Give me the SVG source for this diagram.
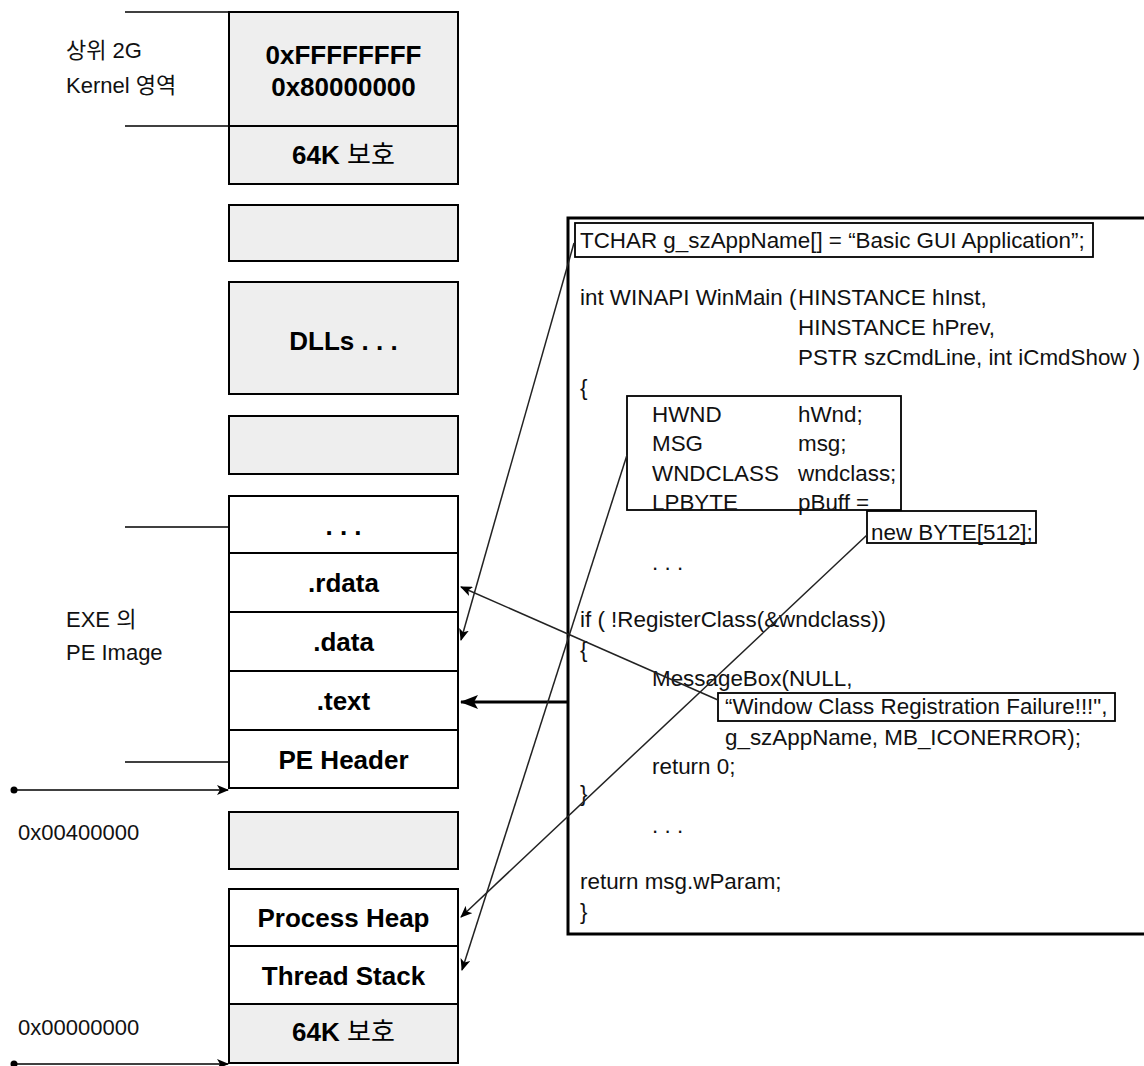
<svg xmlns="http://www.w3.org/2000/svg" width="1144" height="1066" viewBox="0 0 1144 1066">
<defs>
<style>
.mem{stroke:#000;stroke-width:2;}
.g{fill:#eeeeee;}
.w{fill:#ffffff;}
.bl{font-family:"Liberation Sans","Noto Sans CJK KR",sans-serif;font-weight:bold;font-size:26px;fill:#000;text-anchor:middle;}
.kr{font-weight:normal;}
.lab{font-family:"Liberation Sans","Noto Sans CJK KR",sans-serif;font-size:22px;fill:#111;}
.code{font-family:"Liberation Sans",sans-serif;font-size:22.4px;fill:#111;}
.ln{stroke:#000;stroke-width:1.5;fill:none;}
.thin{stroke:#222;stroke-width:1.5;fill:none;}
.box{fill:none;stroke:#000;stroke-width:1.8;}
</style>
<marker id="ah" markerWidth="12" markerHeight="10" refX="11" refY="5" orient="auto" markerUnits="userSpaceOnUse">
<path d="M0,0 L12,5 L0,10 L3,5 z" fill="#000"/>
</marker>
<marker id="ahb" markerWidth="18" markerHeight="14" refX="17" refY="7" orient="auto" markerUnits="userSpaceOnUse">
<path d="M0,0 L18,7 L0,14 L4,7 z" fill="#000"/>
</marker>
</defs>

<g id="labels">
<text class="lab" x="66" y="58">상위 2G</text>
<text class="lab" x="66" y="93">Kernel 영역</text>
<text class="lab" x="66" y="627">EXE 의</text>
<text class="lab" x="66" y="660">PE Image</text>
<text class="lab" x="18" y="840">0x00400000</text>
<text class="lab" x="18" y="1035">0x00000000</text>
</g>

<g id="kernel">
<rect class="mem g" x="229" y="12" width="229" height="114"/>
<text class="bl" x="343.5" y="64">0xFFFFFFFF</text>
<text class="bl" x="343.5" y="96">0x80000000</text>
</g>
<g id="guard-top">
<rect class="mem g" x="229" y="126" width="229" height="58"/>
<text class="bl" x="343.5" y="164">64K <tspan class="kr">보호</tspan></text>
</g>
<g id="free1"><rect class="mem g" x="229" y="205" width="229" height="56"/></g>
<g id="dlls">
<rect class="mem g" x="229" y="282" width="229" height="112"/>
<text class="bl" x="343.5" y="350">DLLs . . .</text>
</g>
<g id="free2"><rect class="mem g" x="229" y="416" width="229" height="58"/></g>
<g id="sec-etc">
<rect class="mem w" x="229" y="496" width="229" height="57"/>
<text class="bl" x="343.5" y="535">. . .</text>
</g>
<g id="rdata">
<rect class="mem w" x="229" y="553" width="229" height="59"/>
<text class="bl" x="343.5" y="592">.rdata</text>
</g>
<g id="data">
<rect class="mem w" x="229" y="612" width="229" height="59"/>
<text class="bl" x="343.5" y="651">.data</text>
</g>
<g id="textsec">
<rect class="mem w" x="229" y="671" width="229" height="59"/>
<text class="bl" x="343.5" y="710">.text</text>
</g>
<g id="peheader">
<rect class="mem w" x="229" y="730" width="229" height="58"/>
<text class="bl" x="343.5" y="769">PE Header</text>
</g>
<g id="free3"><rect class="mem g" x="229" y="812" width="229" height="57"/></g>
<g id="heap">
<rect class="mem w" x="229" y="889" width="229" height="57"/>
<text class="bl" x="343.5" y="927">Process Heap</text>
</g>
<g id="stack">
<rect class="mem w" x="229" y="946" width="229" height="58"/>
<text class="bl" x="343.5" y="985">Thread Stack</text>
</g>
<g id="guard-bottom">
<rect class="mem g" x="229" y="1004" width="229" height="59"/>
<text class="bl" x="343.5" y="1041">64K <tspan class="kr">보호</tspan></text>
</g>

<g id="code">
<rect x="568" y="218" width="590" height="716" fill="#fff" stroke="#000" stroke-width="3"/>
<rect class="box" x="575" y="223" width="518" height="34"/>
<rect class="box" x="627" y="396" width="274" height="114"/>
<rect class="box" x="867" y="511" width="169" height="32"/>
<rect class="box" x="718" y="693" width="397" height="28"/>
<text class="code" x="580" y="248">TCHAR g_szAppName[] = “Basic GUI Application”;</text>
<text class="code" x="580" y="305">int WINAPI WinMain (</text>
<text class="code" x="798" y="305">HINSTANCE hInst,</text>
<text class="code" x="798" y="335">HINSTANCE hPrev,</text>
<text class="code" x="798" y="365">PSTR szCmdLine, int iCmdShow )</text>
<text class="code" x="580" y="395">{</text>
<text class="code" x="652" y="422">HWND</text><text class="code" x="798" y="422">hWnd;</text>
<text class="code" x="652" y="451">MSG</text><text class="code" x="798" y="451">msg;</text>
<text class="code" x="652" y="481">WNDCLASS</text><text class="code" x="798" y="481">wndclass;</text>
<text class="code" x="652" y="510">LPBYTE</text><text class="code" x="798" y="510">pBuff =</text>
<text class="code" x="871" y="540">new BYTE[512];</text>
<text class="code" x="652" y="570">. . .</text>
<text class="code" x="580" y="627">if ( !RegisterClass(&amp;wndclass))</text>
<text class="code" x="580" y="657">{</text>
<text class="code" x="652" y="686">MessageBox(NULL,</text>
<text class="code" x="725" y="714">“Window Class Registration Failure!!!",</text>
<text class="code" x="725" y="745">g_szAppName, MB_ICONERROR);</text>
<text class="code" x="652" y="774">return 0;</text>
<text class="code" x="580" y="801">}</text>
<text class="code" x="652" y="833">. . .</text>
<text class="code" x="580" y="889">return msg.wParam;</text>
<text class="code" x="580" y="919">}</text>
</g>

<g id="connectors">
<line class="ln" x1="125" y1="12" x2="229" y2="12"/>
<line class="ln" x1="125" y1="126" x2="229" y2="126"/>
<line class="ln" x1="125" y1="527" x2="229" y2="527"/>
<line class="ln" x1="125" y1="762" x2="229" y2="762"/>
<circle cx="14" cy="790" r="3.5" fill="#000"/>
<line class="ln" x1="14" y1="790" x2="228" y2="790" marker-end="url(#ah)"/>
<circle cx="14" cy="1064" r="3.5" fill="#000"/>
<line class="ln" x1="14" y1="1064" x2="228" y2="1064" marker-end="url(#ah)"/>
<line class="thin" x1="574" y1="243" x2="461" y2="640" marker-end="url(#ah)"/>
<line class="thin" x1="718" y1="700" x2="461" y2="587" marker-end="url(#ah)"/>
<line x1="568" y1="702" x2="461" y2="702" stroke="#000" stroke-width="3" marker-end="url(#ahb)"/>
<line class="thin" x1="627" y1="455" x2="462" y2="970" marker-end="url(#ah)"/>
<line class="thin" x1="867" y1="535" x2="461" y2="917" marker-end="url(#ah)"/>
</g>
</svg>
